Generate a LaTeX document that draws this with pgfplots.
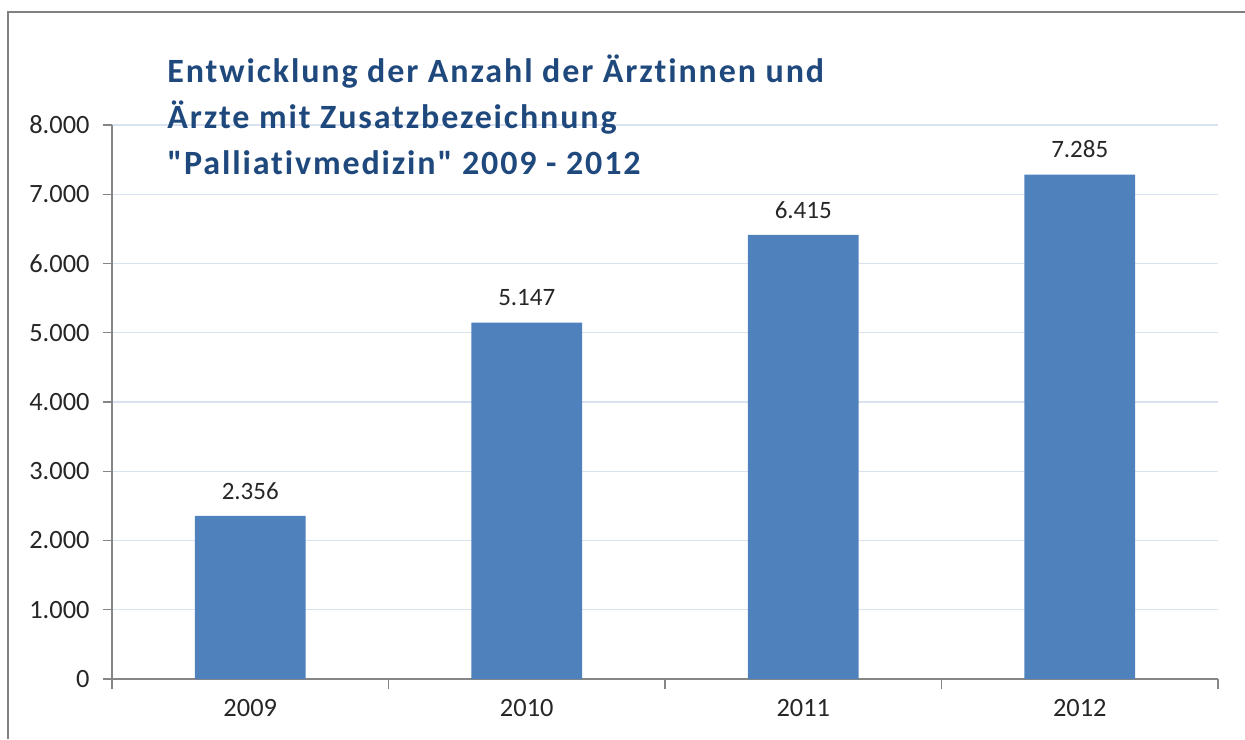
\documentclass[border=0pt]{standalone}
\usepackage{fontspec}
\setmainfont{Carlito}
\newfontfamily\titlefont{Carlito}[Ligatures={TeXOff,NoCommon}, LetterSpace=5.5]
\usepackage{pgfplots}
\pgfplotsset{compat=1.18}
\definecolor{barblue}{RGB}{79,129,189}
\definecolor{titleblue}{RGB}{31,73,125}
\definecolor{gridblue}{RGB}{217,226,240}
\definecolor{axisgray}{RGB}{134,134,134}
\definecolor{framegray}{RGB}{128,128,128}

\begin{document}
\begin{tikzpicture}[x=1pt,y=1pt]
\useasboundingbox (0,0) rectangle (622.5,369.5);
\draw[framegray, line width=1.2pt] (4,0) -- (4,363.5) -- (622.5,363.5);
\begin{axis}[
    at={(56pt,30pt)}, anchor=south west,
    scale only axis, width=553pt, height=277pt,
    ymin=0, ymax=8000, ytick distance=1000,
    xmin=-0.5, xmax=3.5,
    xtick={0,1,2,3}, xticklabels={2009,2010,2011,2012},
    minor xtick={-0.5,0.5,1.5,2.5,3.5},
    axis x line*=bottom, axis y line*=left,
    axis line style={axisgray, line width=0.6pt, -},
    tick align=outside,
    major tick length=4.5pt, minor tick length=5pt,
    major x tick style={draw=none},
    minor x tick style={axisgray, line width=0.6pt},
    major y tick style={axisgray, line width=0.6pt},
    ymajorgrids, grid style={gridblue, line width=0.6pt},
    scaled y ticks=false,
    /pgf/number format/.cd, fixed, precision=0, 1000 sep={.}, assume math mode=true,
    /pgfplots/.cd,
    ticklabel style={font=\fontsize{13.2}{15}\selectfont, text=black!85},
    yticklabel style={xshift=-3.2pt},
    xticklabel style={yshift=-2pt},
    ybar, bar width=0.4,
    nodes near coords,
    nodes near coords style={anchor=south, inner sep=0pt, yshift=8pt,
        font=\fontsize{12.5}{15}\selectfont, text=black!85},
]
\addplot[fill=barblue, draw=none] coordinates {(0,2356) (1,5147) (2,6415) (3,7285)};
\end{axis}
\begin{scope}[every node/.style={anchor=base west, inner sep=0pt, text=titleblue,
    font=\titlefont\bfseries\fontsize{17}{19}\selectfont}]
\node at (83.5,328) {Entwicklung der Anzahl der Ärztinnen und};
\node at (83.5,305) {Ärzte mit Zusatzbezeichnung};
\node at (83.5,282) {"Palliativmedizin" 2009 - 2012};
\end{scope}
\end{tikzpicture}
\end{document}
